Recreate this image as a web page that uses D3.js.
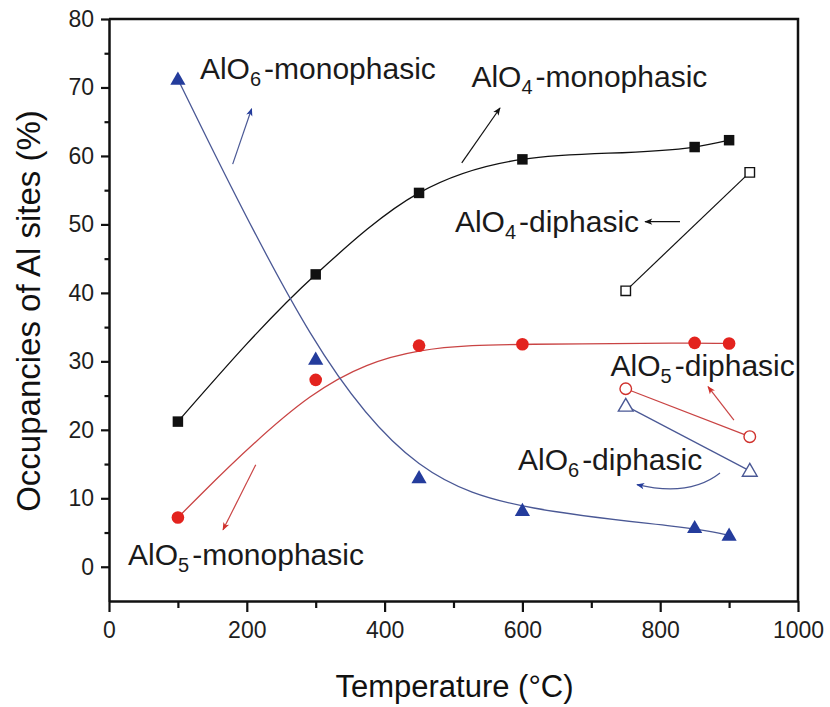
<!DOCTYPE html>
<html>
<head>
<meta charset="utf-8">
<script src="https://cdn.jsdelivr.net/npm/d3@7"></script>
<style>
  html, body { margin: 0; padding: 0; background: #fff; }
  svg { display: block; font-family: "Liberation Sans", Arial, Helvetica, sans-serif; }
</style>
</head>
<body>
<svg id="chart" width="830" height="707"></svg>
<script>
// ---------------- data ----------------
const monoTemps = [100, 300, 450, 600, 850, 900];
const alo4Mono = [21.2, 42.7, 54.6, 59.5, 61.3, 62.3];
const alo5Mono = [7.2, 27.3, 32.3, 32.5, 32.7, 32.6];
const alo6Mono = [71.2, 30.3, 13.0, 8.2, 5.7, 4.6];

const diTemps = [750, 930];
const alo4Di = [40.3, 57.6];
const alo5Di = [26.0, 19.0];
const alo6Di = [23.5, 14.0];

const xMajorTicks = [0, 200, 400, 600, 800, 1000];
const xMinorTicks = [100, 300, 500, 700, 900];
const yMajorTicks = [0, 10, 20, 30, 40, 50, 60, 70, 80];
const yMinorTicks = [5, 15, 25, 35, 45, 55, 65, 75];

const xTitle = "Temperature (°C)";
const yTitle = "Occupancies of Al sites (%)";

// ---------------- layout ----------------
const svg = d3.select("#chart");
const mLeft = 109, mRight = 798, mTop = 19, mBottom = 601;
const x = d3.scaleLinear().domain([0, 1000]).range([mLeft, mRight]);
const y = d3.scaleLinear().domain([-5, 80]).range([mBottom, mTop]);

const BLACK = "#111111", RED = "#e3231e", REDLINE = "#c94444", BLUE = "#243c9c", BLUELINE = "#4a5895";

// arrow markers
const defs = svg.append("defs");
[["blk", BLACK], ["red", "#d0312c"], ["blu", BLUE]].forEach(([id, c]) => {
  defs.append("marker").attr("id", "arr-" + id)
    .attr("viewBox", "0 0 10 10").attr("refX", 9).attr("refY", 5)
    .attr("markerWidth", 11).attr("markerHeight", 8).attr("markerUnits", "userSpaceOnUse")
    .attr("orient", "auto")
    .append("path").attr("d", "M0,1 L10,5 L0,9 L2.5,5 Z").attr("fill", c);
});

// axes
const gx = svg.append("g").attr("transform", `translate(0,${mBottom})`);
gx.call(d3.axisBottom(x).tickValues(xMajorTicks).tickSize(11).tickSizeOuter(0).tickPadding(10).tickFormat(d3.format("d")));
const gxm = svg.append("g").attr("transform", `translate(0,${mBottom})`);
gxm.call(d3.axisBottom(x).tickValues(xMinorTicks).tickSize(7).tickSizeOuter(0).tickFormat(""));
gxm.select(".domain").remove();

const gy = svg.append("g").attr("transform", `translate(${mLeft},0)`);
gy.call(d3.axisLeft(y).tickValues(yMajorTicks).tickSize(8).tickSizeOuter(0).tickPadding(7).tickFormat(d3.format("d")));
const gym = svg.append("g").attr("transform", `translate(${mLeft},0)`);
gym.call(d3.axisLeft(y).tickValues(yMinorTicks).tickSize(4.5).tickSizeOuter(0).tickFormat(""));
gym.select(".domain").remove();

svg.selectAll(".domain").attr("stroke", BLACK).attr("stroke-width", 2.5);
svg.selectAll(".tick line").attr("stroke", BLACK).attr("stroke-width", 2.2);
svg.selectAll(".tick text").attr("font-size", 23).attr("fill", "#1e1e1e")
  .attr("font-family", "Liberation Sans, Arial, sans-serif");

// frame top and right
svg.append("path")
  .attr("d", `M${mLeft},${mTop} L${mRight},${mTop} L${mRight},${mBottom}`)
  .attr("fill", "none").attr("stroke", BLACK).attr("stroke-width", 2.5);

// titles
svg.append("text").attr("x", (mLeft + mRight) / 2 + 1).attr("y", 697)
  .attr("text-anchor", "middle").attr("font-size", 31).attr("fill", "#111").text(xTitle);
svg.append("text").attr("transform", `translate(40,${311}) rotate(-90)`)
  .attr("text-anchor", "middle").attr("font-size", 33).attr("fill", "#111").text(yTitle);

// ---------------- series ----------------
const plot = svg.append("g");
function pts(xs, ys) { return xs.map((t, i) => [t, ys[i]]); }

plot.append("path").datum(pts(monoTemps, alo4Mono))
  .attr("d", d3.line().x(d => x(d[0])).y(d => y(d[1])).curve(d3.curveMonotoneX))
  .attr("fill", "none").attr("stroke", BLACK).attr("stroke-width", 1.3);
plot.append("path").datum(pts(monoTemps, alo5Mono))
  .attr("d", d3.line().x(d => x(d[0])).y(d => y(d[1])).curve(d3.curveBasis))
  .attr("fill", "none").attr("stroke", REDLINE).attr("stroke-width", 1.3);
plot.append("path").datum(pts(monoTemps, alo6Mono))
  .attr("d", d3.line().x(d => x(d[0])).y(d => y(d[1])).curve(d3.curveBasis))
  .attr("fill", "none").attr("stroke", BLUELINE).attr("stroke-width", 1.3);

const lineLin = d3.line().x(d => x(d[0])).y(d => y(d[1]));
plot.append("path").datum(pts(diTemps, alo4Di)).attr("d", lineLin)
  .attr("fill", "none").attr("stroke", BLACK).attr("stroke-width", 1.2);
plot.append("path").datum(pts(diTemps, alo5Di)).attr("d", lineLin)
  .attr("fill", "none").attr("stroke", REDLINE).attr("stroke-width", 1.2);
plot.append("path").datum(pts(diTemps, alo6Di)).attr("d", lineLin)
  .attr("fill", "none").attr("stroke", BLUELINE).attr("stroke-width", 1.2);

const sq = d3.symbol().type(d3.symbolSquare);
const ci = d3.symbol().type(d3.symbolCircle);
const tr = d3.symbol().type(d3.symbolTriangle);

function markers(data, sym, size, fill, stroke, sw, dy) {
  plot.append("g").selectAll("path").data(data).join("path")
    .attr("transform", d => `translate(${x(d[0])},${y(d[1]) + (dy || 0)})`)
    .attr("d", sym.size(size)())
    .attr("fill", fill).attr("stroke", stroke).attr("stroke-width", sw);
}
markers(pts(monoTemps, alo4Mono), sq, 110, BLACK, "none", 0);
markers(pts(monoTemps, alo5Mono), ci, 125, RED, "none", 0);
markers(pts(monoTemps, alo6Mono), tr, 100, BLUE, "none", 0, 1);
markers(pts(diTemps, alo4Di), sq, 90, "#fff", BLACK, 1.4);
markers(pts(diTemps, alo5Di), ci, 105, "#fff", "#d0312c", 1.4);
markers(pts(diTemps, alo6Di), tr, 95, "#fff", BLUELINE, 1.4, 1);

// ---------------- annotations (data units) ----------------
const labels = [
  { base: "AlO", sub: "6", rest: "-monophasic", at: [132, 71.2] },
  { base: "AlO", sub: "4", rest: "-monophasic", at: [526, 70.1] },
  { base: "AlO", sub: "4", rest: "-diphasic", at: [502, 48.9] },
  { base: "AlO", sub: "5", rest: "-diphasic", at: [728, 27.8] },
  { base: "AlO", sub: "6", rest: "-diphasic", at: [593.6, 14.1] },
  { base: "AlO", sub: "5", rest: "-monophasic", at: [27.6, 0.26] }
];
labels.forEach(l => {
  const t = svg.append("text").attr("x", x(l.at[0])).attr("y", y(l.at[1]))
    .attr("font-size", 30).attr("fill", "#1a1a1a");
  t.append("tspan").text(l.base);
  t.append("tspan").attr("font-size", 20).attr("dy", 7).text(l.sub);
  t.append("tspan").attr("dy", -7).attr("dx", 3).text(l.rest);
});

const arrows = [
  { from: [179.5, 58.8], to: [207, 66.9], c: "blu", stroke: BLUELINE },
  { from: [512, 59.0], to: [567.5, 67.0], c: "blk", stroke: BLACK },
  { from: [828.7, 50.4], to: [778, 50.4], c: "blk", stroke: BLACK },
  { from: [907, 21.4], to: [869.4, 26.3], c: "red", stroke: REDLINE },
  { from: [886.8, 13.7], to: [766.3, 12.0], ctrl: [843, 10.2], c: "blu", stroke: BLUELINE },
  { from: [213, 14.9], to: [165.5, 5.4], c: "red", stroke: REDLINE }
];
arrows.forEach(a => {
  const p = d3.path();
  p.moveTo(x(a.from[0]), y(a.from[1]));
  if (a.ctrl) p.quadraticCurveTo(x(a.ctrl[0]), y(a.ctrl[1]), x(a.to[0]), y(a.to[1]));
  else p.lineTo(x(a.to[0]), y(a.to[1]));
  svg.append("path").attr("d", p.toString()).attr("fill", "none")
    .attr("stroke", a.stroke).attr("stroke-width", 1.2)
    .attr("marker-end", `url(#arr-${a.c})`);
});
</script>
</body>
</html>
